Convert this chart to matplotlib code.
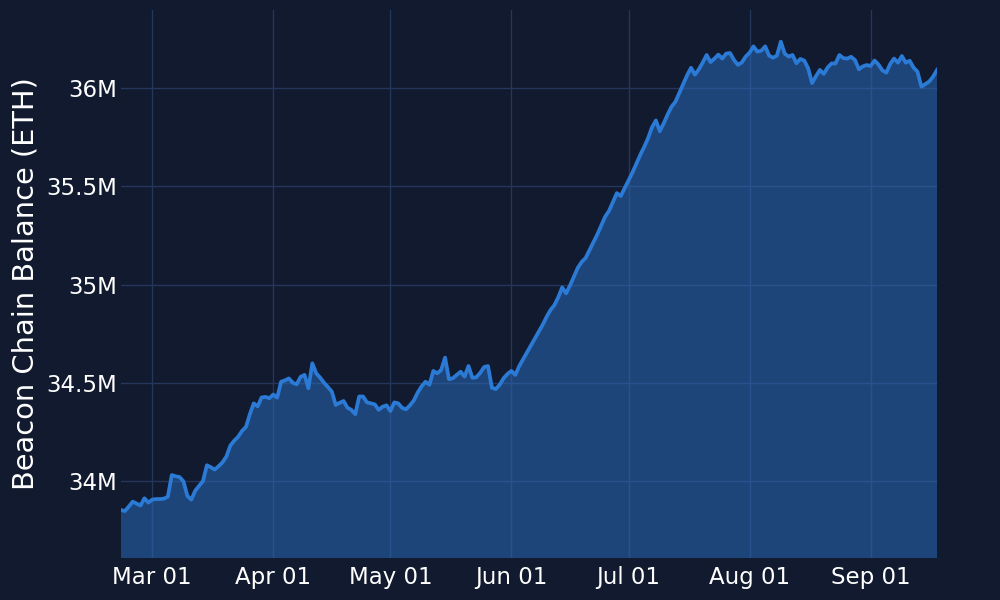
import matplotlib
matplotlib.use("Agg")
import matplotlib.pyplot as plt
import matplotlib.dates as mdates
from matplotlib.ticker import FuncFormatter
import numpy as np
import pandas as pd

start_date = "2025-02-21"
# Beacon chain balance, millions of ETH, one value per day
balance_m = [
    33.852, 33.847, 33.870, 33.895, 33.885, 33.875, 33.912, 33.890, 33.905, 33.908,
    33.908, 33.910, 33.920, 34.030, 34.024, 34.020, 33.998, 33.924, 33.905, 33.950,
    33.975, 34.000, 34.080, 34.070, 34.058, 34.075, 34.095, 34.125, 34.180, 34.205,
    34.225, 34.255, 34.275, 34.340, 34.395, 34.380, 34.425, 34.428, 34.421, 34.440,
    34.424, 34.505, 34.512, 34.522, 34.500, 34.492, 34.530, 34.540, 34.472, 34.599,
    34.548, 34.526, 34.500, 34.478, 34.455, 34.387, 34.398, 34.407, 34.373, 34.362,
    34.340, 34.430, 34.430, 34.400, 34.395, 34.390, 34.362, 34.378, 34.385, 34.356,
    34.400, 34.395, 34.372, 34.365, 34.385, 34.410, 34.450, 34.482, 34.505, 34.490,
    34.560, 34.548, 34.565, 34.628, 34.518, 34.523, 34.540, 34.556, 34.531, 34.585,
    34.525, 34.528, 34.550, 34.580, 34.585, 34.475, 34.468, 34.490, 34.523, 34.545,
    34.560, 34.540, 34.585, 34.620, 34.655, 34.690, 34.725, 34.760, 34.795, 34.835,
    34.870, 34.895, 34.935, 34.985, 34.955, 34.995, 35.040, 35.085, 35.115, 35.135,
    35.175, 35.215, 35.255, 35.300, 35.345, 35.375, 35.420, 35.465, 35.450, 35.490,
    35.530, 35.570, 35.615, 35.660, 35.700, 35.745, 35.800, 35.835, 35.780, 35.820,
    35.865, 35.905, 35.930, 35.975, 36.020, 36.065, 36.103, 36.068, 36.095, 36.130,
    36.168, 36.132, 36.150, 36.170, 36.150, 36.175, 36.178, 36.143, 36.118, 36.130,
    36.160, 36.180, 36.212, 36.185, 36.190, 36.212, 36.165, 36.154, 36.165, 36.236,
    36.175, 36.160, 36.168, 36.126, 36.148, 36.140, 36.100, 36.025, 36.060, 36.092,
    36.072, 36.105, 36.125, 36.125, 36.168, 36.152, 36.150, 36.159, 36.142, 36.095,
    36.110, 36.117, 36.112, 36.140, 36.120, 36.090, 36.078, 36.122, 36.150, 36.129,
    36.163, 36.129, 36.139, 36.104, 36.083, 36.007, 36.020, 36.033, 36.058, 36.092,
]
y_ticks = [34e6, 34.5e6, 35e6, 35.5e6, 36e6]
x_tick_dates = ["2025-03-01", "2025-04-01", "2025-05-01", "2025-06-01",
                "2025-07-01", "2025-08-01", "2025-09-01"]
y_label = "Beacon Chain Balance (ETH)"

dates = pd.date_range(start_date, periods=len(balance_m), freq="D")
values = np.array(balance_m) * 1e6

BG = "#111a2e"
GRID = "#25375c"
LINE = "#2b7bd6"
FILL = "#2a6ab8"

plt.rcParams["font.family"] = ["DejaVu Sans"]
fig = plt.figure(figsize=(10, 6), dpi=100, facecolor=BG)
ax = fig.add_axes([0.121, 0.07, 0.816, 0.9133])
ax.set_facecolor(BG)

ymin, ymax = 33.608e6, 36.397e6
ax.fill_between(dates, values, ymin - 1e6, color=FILL, alpha=0.55, linewidth=0, zorder=2)
ax.plot(dates, values, color=LINE, linewidth=2.7, zorder=3, solid_joinstyle="round")

ax.set_xlim(dates[0], dates[-1])
ax.set_ylim(ymin, ymax)

ax.set_yticks(y_ticks)
ax.yaxis.set_major_formatter(FuncFormatter(lambda v, p: f"{v/1e6:g}M"))
ax.set_xticks(pd.to_datetime(x_tick_dates))
ax.xaxis.set_major_formatter(mdates.DateFormatter("%b %d"))

ax.grid(True, color=GRID, linewidth=1.0, zorder=1)
ax.set_axisbelow(True)
for s in ax.spines.values():
    s.set_visible(False)
ax.tick_params(axis="both", length=0, colors="white", labelsize=16.5, pad=3)
ax.tick_params(axis="x", pad=6)
ax.set_ylabel(y_label, color="white", fontsize=20.8, labelpad=10)
ax.yaxis.set_label_coords(-0.1, 0.5)

fig.savefig("out.png", dpi=100, facecolor=BG)
